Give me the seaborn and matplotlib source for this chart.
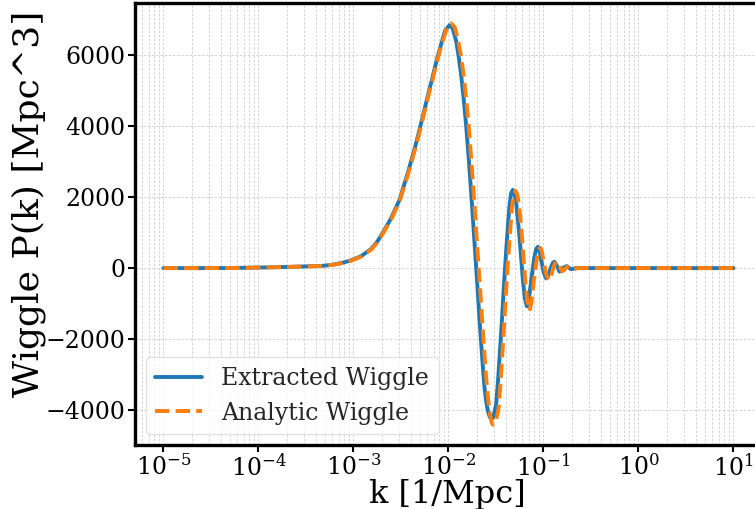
import numpy as np
import pandas as pd
import matplotlib
matplotlib.use("Agg")
import matplotlib.pyplot as plt
import seaborn as sns

# ---- data ----
logk_extracted = [-5.0, -4.603, -4.287, -4.003, -3.761, -3.55, -3.34, -3.235, -3.129, -3.023,
                  -2.918, -2.813, -2.743, -2.677, -2.603, -2.516, -2.427, -2.339, -2.252, -2.208,
                  -2.164, -2.119, -2.077, -2.035, -1.989, -1.956, -1.919, -1.893, -1.866, -1.84,
                  -1.814, -1.787, -1.761, -1.743, -1.726, -1.708, -1.691, -1.674, -1.656, -1.638,
                  -1.621, -1.603, -1.585, -1.566, -1.551, -1.537, -1.524, -1.498, -1.477, -1.453,
                  -1.432, -1.411, -1.393, -1.375, -1.358, -1.341, -1.323, -1.306, -1.288, -1.271,
                  -1.253, -1.235, -1.217, -1.196, -1.175, -1.153, -1.129, -1.112, -1.095, -1.077,
                  -1.059, -1.042, -1.024, -0.998, -0.972, -0.945, -0.919, -0.901, -0.884, -0.858,
                  -0.831, -0.808, -0.787, -0.754, -0.729, -0.708, -0.655, -0.603, 0.0, 0.5, 1.0]
wiggle_extracted = [0, 0, 3, 15, 28, 45, 60, 90, 140, 220,
                    340, 540, 770, 1060, 1410, 1920, 2690, 3530, 4470, 4950,
                    5410, 5900, 6300, 6680, 6830, 6740, 6380, 5950, 5410, 4750,
                    4000, 3080, 2110, 1400, 700, 0, -710, -1420, -2120, -2780,
                    -3360, -3750, -4020, -4180, -4240, -4220, -4150, -3820, -3100, -2120,
                    -1200, -250, 480, 1170, 1750, 2100, 2200, 2120, 1850, 1400,
                    890, 280, -340, -850, -1075, -850, -340, 0, 320, 540,
                    600, 480, 226, -120, -290, -180, 40, 150, 180, 60,
                    -100, -70, 20, 57, 0, -30, 0, 0, 0, 0, 0]

logk_analytic = [-5.0, -4.603, -4.287, -4.003, -3.761, -3.55, -3.34, -3.235, -3.129, -3.023,
                 -2.918, -2.813, -2.743, -2.677, -2.603, -2.516, -2.427, -2.339, -2.252, -2.208,
                 -2.164, -2.119, -2.077, -2.024, -1.972, -1.935, -1.898, -1.868, -1.84, -1.814,
                 -1.787, -1.761, -1.735, -1.717, -1.7, -1.682, -1.664, -1.647, -1.629, -1.612,
                 -1.595, -1.578, -1.561, -1.545, -1.532, -1.515, -1.5, -1.473, -1.452, -1.427,
                 -1.406, -1.385, -1.366, -1.348, -1.332, -1.314, -1.295, -1.277, -1.261, -1.243,
                 -1.226, -1.208, -1.191, -1.169, -1.147, -1.126, -1.103, -1.085, -1.068, -1.051,
                 -1.033, -1.016, -0.998, -0.972, -0.945, -0.919, -0.893, -0.875, -0.858, -0.832,
                 -0.805, -0.782, -0.761, -0.727, -0.703, -0.682, -0.635, -0.603, 0.0, 0.5, 1.0]
wiggle_analytic = [0, 0, 3, 15, 28, 45, 58, 85, 135, 210,
                   325, 520, 745, 1030, 1370, 1870, 2630, 3460, 4400, 4880,
                   5340, 5830, 6240, 6700, 6880, 6780, 6400, 5950, 5410, 4750,
                   4000, 3080, 2110, 1400, 700, 0, -710, -1420, -2120, -2780,
                   -3360, -3800, -4150, -4350, -4400, -4370, -4280, -3950, -3200, -2150,
                   -1200, -250, 480, 1150, 1720, 2070, 2170, 2080, 1820, 1380,
                   850, 230, -400, -930, -1200, -950, -380, -20, 300, 510,
                   570, 450, 180, -180, -340, -200, 40, 150, 180, 50,
                   -90, -50, 20, 50, 0, -30, 0, 0, 0, 0, 0]

labels = ["Extracted Wiggle", "Analytic Wiggle"]
yticks = [-4000, -2000, 0, 2000, 4000, 6000]

k_extracted = 10.0 ** np.array(logk_extracted)
k_analytic = 10.0 ** np.array(logk_analytic)

# ---- style ----
sns.set_theme(style="whitegrid")
plt.rcParams["font.family"] = ["DejaVu Serif", "DejaVu Sans"]

fig = plt.figure(figsize=(7.55, 5.09), dpi=100)
ax = fig.add_axes([135 / 755, 1 - 444.7 / 509, 627 / 755, (444.7 - 3.3) / 509])

sns.lineplot(x=k_extracted, y=wiggle_extracted, ax=ax, color="#1f77b4", lw=2.8,
             label=labels[0], sort=False, estimator=None)
sns.lineplot(x=k_analytic, y=wiggle_analytic, ax=ax, color="#ff7f0e", lw=2.8,
             linestyle="--", label=labels[1], sort=False, estimator=None)

ax.set_xscale("log")
ax.set_yticks(yticks)
ax.grid(True, which="both", linestyle=(0, (3, 2)), linewidth=0.6, color="#cccccc")
ax.set_axisbelow(True)

ax.tick_params(axis="both", which="major", labelsize=17, length=5, width=1.5,
               color="black", bottom=True, left=True, labelcolor="black", pad=2)
ax.tick_params(axis="x", which="minor", length=0)
for s in ax.spines.values():
    s.set_color("black")
    s.set_linewidth(2.4)

ax.set_xlabel("k [1/Mpc]", fontsize=23, color="black")
ax.xaxis.set_label_coords(0.4975, -0.077)
ax.set_ylabel("Wiggle P(k) [Mpc^3]", fontsize=26, color="black")
ax.yaxis.set_label_coords(-0.142, 0.546)

leg = ax.legend(loc="lower left", fontsize=17, frameon=True, fancybox=True,
                borderaxespad=0.45)
leg.get_frame().set_edgecolor("#dddddd")

fig.savefig("out.png", dpi=100)
